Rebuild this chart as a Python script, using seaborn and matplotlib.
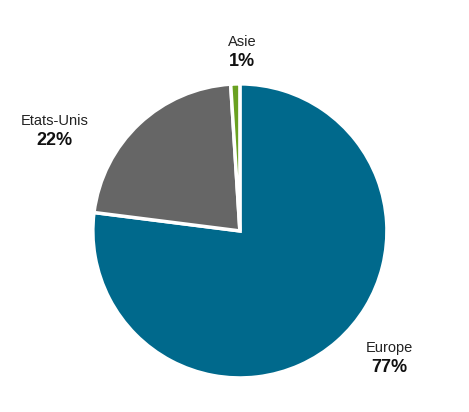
import matplotlib.pyplot as plt
import seaborn as sns

# Data
regions = ['Europe', 'Etats-Unis', 'Asie']
shares = [77, 22, 1]
colors = ['#00698c', '#666666', '#6aa121']

sns.set_theme(style='white')
plt.rcParams['font.family'] = ['Liberation Sans', 'DejaVu Sans']

fig = plt.figure(figsize=(4.69, 4.12), dpi=100)
ax = fig.add_axes([0.198, 0.0825, 0.627, 0.714])
ax.pie(shares, colors=colors, startangle=90, counterclock=False, radius=1,
       wedgeprops={'edgecolor': 'white', 'linewidth': 2.5})
ax.set_xlim(-1, 1)
ax.set_ylim(-1, 1)
ax.set_aspect('equal')

# label positions (figure fraction)
label_pos = {'Europe': (0.83, 0.108), 'Etats-Unis': (0.117, 0.658), 'Asie': (0.516, 0.85)}
for name, val in zip(regions, shares):
    x, y = label_pos[name]
    fig.text(x, y + 0.048, name, ha='center', va='center', fontsize=10.5, color='#222222')
    fig.text(x, y, f'{val}%', ha='center', va='center', fontsize=13, fontweight='bold', color='#111111')

fig.savefig('out.png', dpi=100, facecolor='white')
